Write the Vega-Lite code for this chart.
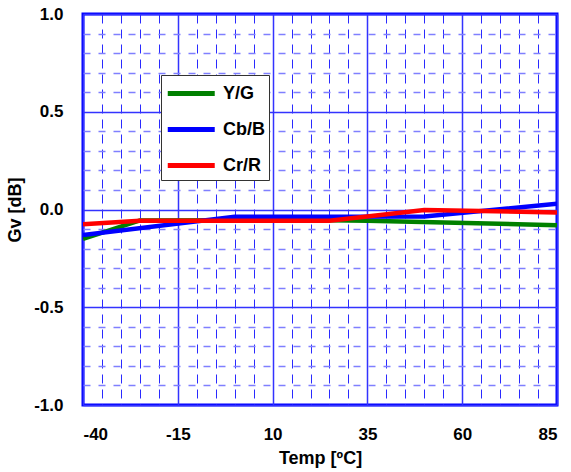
{
  "$schema": "https://vega.github.io/schema/vega-lite/v6.json",
  "width": 474,
  "height": 391,
  "autosize": {"type": "none"},
  "padding": {"left": 83, "top": 14, "right": 14, "bottom": 67},
  "background": "white",
  "config": {
    "view": {"stroke": "#0000ff", "strokeWidth": 3},
    "font": "Liberation Sans",
    "axis": {"labelFont": "Liberation Sans", "titleFont": "Liberation Sans", "labelFontWeight": "bold", "titleFontWeight": "bold", "labelColor": "black", "titleColor": "black", "domain": false, "ticks": false}
  },
  "data": {
    "values": [
      {"temp": -40, "gv": -0.15, "ch": "Y/G"},
      {"temp": -25, "gv": -0.056, "ch": "Y/G"},
      {"temp": 25, "gv": -0.055, "ch": "Y/G"},
      {"temp": 35, "gv": -0.058, "ch": "Y/G"},
      {"temp": 85, "gv": -0.08, "ch": "Y/G"},
      {"temp": -40, "gv": -0.13, "ch": "Cb/B"},
      {"temp": 0, "gv": -0.037, "ch": "Cb/B"},
      {"temp": 50, "gv": -0.036, "ch": "Cb/B"},
      {"temp": 85, "gv": 0.03, "ch": "Cb/B"},
      {"temp": -40, "gv": -0.075, "ch": "Cr/R"},
      {"temp": -25, "gv": -0.057, "ch": "Cr/R"},
      {"temp": 25, "gv": -0.057, "ch": "Cr/R"},
      {"temp": 50, "gv": -0.003, "ch": "Cr/R"},
      {"temp": 85, "gv": -0.015, "ch": "Cr/R"}
    ]
  },
  "mark": {"type": "line", "strokeWidth": 4.5, "clip": true},
  "encoding": {
    "x": {
      "field": "temp", "type": "quantitative",
      "scale": {"domain": [-40, 85], "nice": false, "zero": false},
      "axis": {
        "title": "Temp [ºC]",
        "values": [-40,-35,-30,-25,-20,-15,-10,-5,0,5,10,15,20,25,30,35,40,45,50,55,60,65,70,75,80,85],
        "labelExpr": "(datum.value+40)%25===0 ? ((datum.value<0?'-':'') + abs(datum.value)) : ''",
        "labelFontSize": 17,
        "labelPadding": 21,
        "titleFontSize": 18,
        "titlePadding": 7,
        "grid": true,
        "gridColor": {"condition": {"test": "(datum.value+40)%25===0", "value": "#3333ff"}, "value": "#2a2aff"},
        "gridDash": {"condition": {"test": "(datum.value+40)%25===0", "value": []}, "value": [9, 6]},
        "gridWidth": {"condition": {"test": "(datum.value+40)%25===0", "value": 1.5}, "value": 1},
        "gridOpacity": 1
      }
    },
    "y": {
      "field": "gv", "type": "quantitative",
      "scale": {"domain": [-1, 1], "nice": false, "zero": false},
      "axis": {
        "title": "Gv [dB]",
        "values": [-1,-0.9,-0.8,-0.7,-0.6,-0.5,-0.4,-0.3,-0.2,-0.1,0,0.1,0.2,0.3,0.4,0.5,0.6,0.7,0.8,0.9,1],
        "labelExpr": "abs(datum.value*2-round(datum.value*2))<0.001 ? ((datum.value<0?'-':'') + format(abs(datum.value),'.1f')) : ''",
        "labelFontSize": 17,
        "labelPadding": 20,
        "titleFontSize": 18,
        "titlePadding": 9,
        "grid": true,
        "gridColor": {"condition": {"test": "abs(datum.value*2-round(datum.value*2))<0.001", "value": "#3333ff"}, "value": "#7f7fff"},
        "gridDash": {"condition": {"test": "abs(datum.value*2-round(datum.value*2))<0.001", "value": []}, "value": [7, 8]},
        "gridWidth": 1.5,
        "gridOpacity": 1
      }
    },
    "color": {
      "field": "ch", "type": "nominal",
      "scale": {"domain": ["Y/G", "Cb/B", "Cr/R"], "range": ["#008000", "#0000ff", "#ff0000"]},
      "legend": {
        "title": null,
        "orient": "none",
        "legendX": 78,
        "legendY": 61,
        "fillColor": "white",
        "strokeColor": "#333333",
        "padding": 4,
        "symbolType": "M-1,0H3",
        "symbolSize": 552,
        "symbolStrokeWidth": 5,
        "labelFontSize": 18,
        "labelFontWeight": "bold",
        "labelFont": "Liberation Sans",
        "labelColor": "black",
        "labelOffset": 29,
        "rowPadding": 11
      }
    }
  }
}
